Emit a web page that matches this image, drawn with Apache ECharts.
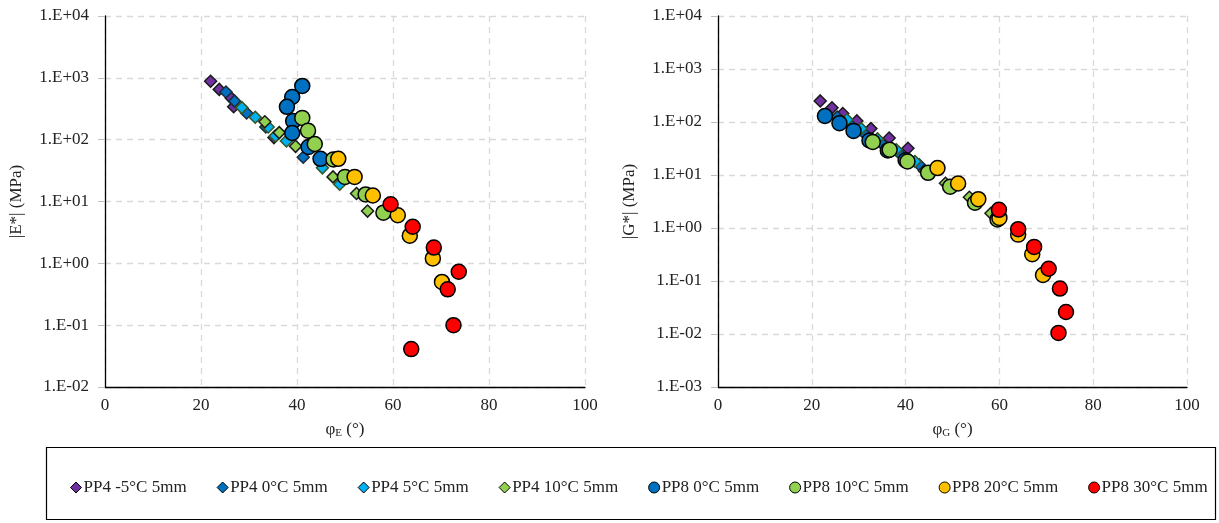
<!DOCTYPE html>
<html><head><meta charset="utf-8">
<script src="https://cdn.jsdelivr.net/npm/echarts@6/dist/echarts.min.js"></script>
<style>html,body{margin:0;padding:0;background:#fff}#c{width:1219px;height:523px}</style>
</head><body><div id="c"></div>
<script>
// ---- data: [phase angle (deg), modulus (MPa)] ----
const seriesNames = ['PP4 -5°C 5mm','PP4 0°C 5mm','PP4 5°C 5mm','PP4 10°C 5mm','PP8 0°C 5mm','PP8 10°C 5mm','PP8 20°C 5mm','PP8 30°C 5mm'];
// |E*| vs phi_E (left chart)
const E_pp4_m5 = [[22.0,880],[23.8,650],[26.3,470],[26.8,340],[35.2,108]];
const E_pp4_0  = [[25.2,590],[27.0,420],[29.5,270],[33.5,160],[41.3,52]];
const E_pp4_5  = [[28.5,330],[31.3,230],[34.0,160],[35.5,115],[37.8,95],[45.3,35],[48.9,19]];
const E_pp4_10 = [[33.3,195],[36.3,130],[39.7,78],[47.5,25],[52.4,13.5],[54.7,7]];
const E_pp8_0  = [[41.1,740],[39.0,490],[37.9,340],[39.2,200],[39.0,128],[42.4,76],[44.9,49]];
const E_pp8_10 = [[41.1,225],[42.3,140],[43.7,85],[47.6,48],[50.0,25],[54.3,13],[58.0,6.6]];
const E_pp8_20 = [[48.6,49],[52.0,25],[55.8,12.5],[61.0,6],[63.5,2.8],[68.3,1.2],[70.2,0.5]];
const E_pp8_30 = [[59.5,9],[64.1,3.9],[68.5,1.8],[73.7,0.73],[71.4,0.38],[72.6,0.1],[63.8,0.041]];
// |G*| vs phi_G (right chart)
const G_pp4_m5 = [[21.8,250],[24.3,185],[26.6,145],[29.6,105],[32.6,75],[36.5,50],[40.5,32]];
const G_pp4_0  = [[25.4,124],[28.1,91],[31.1,62],[34.8,40],[38.6,26],[42.9,15.6]];
const G_pp4_5  = [[27.5,110],[30.5,75],[34.0,48],[38.0,30],[42.0,18]];
const G_pp4_10 = [[44.0,12],[48.5,7],[53.6,3.8],[58.2,1.9]];
const G_pp8_0  = [[22.8,130],[25.9,95],[28.9,68],[32.3,45],[36.2,29],[40.0,19]];
const G_pp8_10 = [[33.0,42],[36.6,30],[40.4,18],[44.8,11],[49.5,6],[54.8,3],[59.6,1.45]];
const G_pp8_20 = [[46.8,13.5],[51.2,6.9],[55.5,3.5],[60.0,1.55],[64.0,0.75],[67.0,0.32],[69.3,0.13]];
const G_pp8_30 = [[59.9,2.2],[64.0,0.95],[67.4,0.44],[70.5,0.17],[72.9,0.072],[74.2,0.026],[72.6,0.0105]];
const xTicks = [0,20,40,60,80,100];

const Edata = [E_pp4_m5,E_pp4_0,E_pp4_5,E_pp4_10,E_pp8_0,E_pp8_10,E_pp8_20,E_pp8_30];
const Gdata = [G_pp4_m5,G_pp4_0,G_pp4_5,G_pp4_10,G_pp8_0,G_pp8_10,G_pp8_20,G_pp8_30];
const styles = [
  {sym:'diamond', size:12, color:'#7030A0', border:'#1a1a1a'},
  {sym:'diamond', size:12, color:'#0070C0', border:'#1a2a3a'},
  {sym:'diamond', size:12, color:'#00B0F0', border:'#375623'},
  {sym:'diamond', size:12, color:'#92D050', border:'#1a1a1a'},
  {sym:'circle', size:15, color:'#0070C0', border:'#000'},
  {sym:'circle', size:15, color:'#92D050', border:'#000'},
  {sym:'circle', size:15, color:'#FFC000', border:'#000'},
  {sym:'circle', size:15, color:'#FF0000', border:'#000'}
];
const FONT = '"Liberation Serif","Times New Roman",serif';
function fmtExp(v){
  const e = Math.round(Math.log10(v));
  const a = Math.abs(e);
  return '1.E' + (e>=0?'+':'-') + (a<10?'0':'') + a;
}
function mkX(idx, sub){
  return {
    gridIndex: idx, type:'value', min:xTicks[0], max:xTicks[xTicks.length-1], interval:xTicks[1]-xTicks[0],
    name: 'φ{s|' + sub + '} (°)', nameLocation:'middle', nameGap:33,
    nameTextStyle:{fontFamily:FONT, fontSize:17, color:'#222', rich:{s:{fontFamily:FONT, fontSize:11, color:'#222', verticalAlign:'bottom', padding:[8,0,0,0]}}},
    axisLine:{show:true, lineStyle:{color:'#000', width:1.3}},
    axisTick:{show:false},
    axisLabel:{fontFamily:FONT, fontSize:17, color:'#222', margin:10},
    splitLine:{show:true, lineStyle:{color:'#d9d9d9', type:[6,5], width:1.3}}
  };
}
function mkY(idx, name, min){
  return {
    gridIndex: idx, type:'log', logBase:10, min:min, max:10000,
    name: name, nameLocation:'middle', nameGap:80, nameRotate:90,
    nameTextStyle:{fontFamily:FONT, fontSize:17, color:'#222'},
    axisLine:{show:true, onZero:false, lineStyle:{color:'#000', width:1.3}},
    axisTick:{show:true, length:7, lineStyle:{color:'#bfbfbf'}},
    minorTick:{show:false},
    axisLabel:{fontFamily:FONT, fontSize:17, color:'#222', margin:16, formatter: fmtExp},
    splitLine:{show:true, lineStyle:{color:'#d9d9d9', type:[6,5], width:1.3}}
  };
}
const series = [];
[Edata, Gdata].forEach((set, gi) => {
  set.forEach((d, i) => {
    const s = styles[i];
    series.push({
      name: seriesNames[i], type:'scatter', xAxisIndex: gi, yAxisIndex: gi,
      data: d, symbol: s.sym, symbolSize: s.size,
      itemStyle:{color:s.color, borderColor:s.border, borderWidth:1.5, opacity:1},
      emphasis:{disabled:true}, z: 2 + i
    });
  });
});
const chart = echarts.init(document.getElementById('c'), null, {renderer:'canvas'});
chart.setOption({
  animation:false,
  backgroundColor:'#fff',
  grid:[
    {left:105, top:16, width:480, height:371},
    {left:718, top:16, width:469, height:371}
  ],
  xAxis:[mkX(0,'E'), mkX(1,'G')],
  yAxis:[mkY(0,'|E*| (MPa)',0.01), mkY(1,'|G*| (MPa)',0.001)],
  legend:{
    left:70, top:479, padding:0, width:1149, itemGap:30, itemWidth:11, itemHeight:11,
    textStyle:{fontFamily:FONT, fontSize:17, color:'#222', padding:[0,0,0,-3]},
    data: seriesNames.map((n,i)=>({name:n, icon: styles[i].sym,
      itemStyle:{color:styles[i].color, borderColor:'#000', borderWidth:1}}))
  },
  graphic:[{type:'rect', shape:{x:46.5, y:447.5, width:1169, height:72}, style:{fill:'none', stroke:'#000', lineWidth:1.2}, silent:true}],
  series: series
});
</script></body></html>
